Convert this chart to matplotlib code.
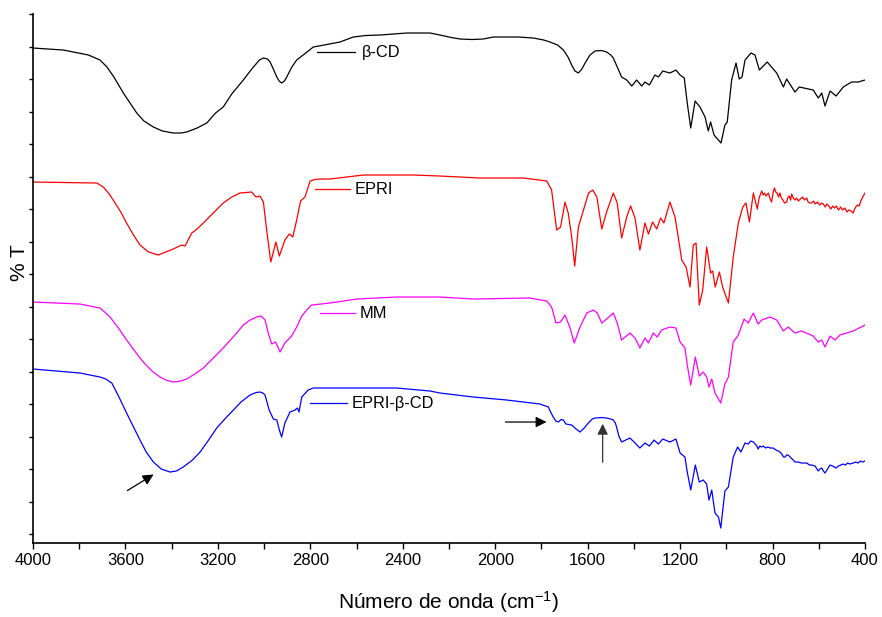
import matplotlib
matplotlib.use("Agg")
import matplotlib.pyplot as plt
import numpy as np

plt.rcParams['font.family'] = ['Liberation Sans', 'DejaVu Sans']
plt.rcParams['mathtext.fontset'] = 'custom'
plt.rcParams['mathtext.rm'] = 'Liberation Sans'
plt.rcParams['mathtext.it'] = 'Liberation Sans:italic'

# ---- data (wavenumber cm-1, offset transmittance in arbitrary units) ----
bcd_w = [4000, 3869, 3760, 3710, 3680, 3650, 3609, 3580, 3551, 3520, 3479, 3440, 3393, 3360,
         3335, 3290, 3248, 3210, 3177, 3140, 3090, 3050, 3020, 3003, 2985, 2974, 2960, 2945,
         2935, 2924, 2912, 2902, 2880, 2859, 2820, 2787, 2740, 2672, 2614, 2560, 2499, 2440,
         2383, 2282, 2239, 2190, 2152, 2100, 2052, 2008, 1900, 1835, 1790, 1763, 1730, 1705,
         1685, 1669, 1655, 1640, 1625, 1611, 1590, 1568, 1540, 1518, 1500, 1489, 1470, 1453,
         1431, 1409, 1388, 1366, 1352, 1333, 1309, 1294, 1275, 1244, 1218, 1200, 1182, 1169,
         1154, 1135, 1114, 1092, 1078, 1068, 1053, 1023, 1006, 996, 977, 958, 944, 932, 919,
         893, 876, 857, 823, 782, 753, 739, 703, 684, 624, 602, 587, 573, 551, 525, 494, 458,
         429, 400]
bcd_t = [495, 493, 488, 483, 476, 466, 450, 440, 430, 422, 416, 412, 410, 410,
         411, 415, 420, 430, 436, 449, 463, 475, 483, 485, 484, 481, 474, 466,
         462, 460, 462, 466, 476, 483, 490, 496, 498, 501, 506, 507.5, 508, 509,
         510, 510, 508, 505.5, 504, 503.5, 504, 506, 506, 505, 503, 501, 498, 493,
         486, 478, 472, 470, 474, 480, 488, 492, 492.5, 491, 488, 485, 475, 466,
         463, 457, 463, 457, 461, 458, 468, 466, 472, 470, 473, 468, 465, 440,
         415, 442, 436, 426, 412, 421, 408, 400, 418, 421, 463, 480, 464, 466, 483,
         490, 488, 473, 481, 470, 456, 464, 451, 456, 453, 445, 450, 437, 452, 447, 456, 461,
         461, 463]

epri_w = [4000, 3724, 3696, 3670, 3653, 3620, 3595, 3565, 3537, 3500, 3458, 3425, 3393, 3357,
          3342, 3313, 3290, 3263, 3220, 3177, 3140, 3104, 3054, 3035, 3018, 3003, 2989, 2971,
          2949, 2934, 2910, 2891, 2876, 2859, 2842, 2823, 2801, 2780, 2758, 2715, 2571, 2354,
          2239, 2066, 1878, 1777, 1756, 1734, 1717, 1698, 1684, 1669, 1656, 1640, 1618, 1596,
          1578, 1560, 1539, 1518, 1489, 1472, 1453, 1431, 1414, 1395, 1374, 1352, 1337, 1319,
          1301, 1284, 1270, 1244, 1222, 1208, 1193, 1174, 1157, 1143, 1131, 1117, 1102, 1085,
          1068, 1059, 1048, 1030, 1016, 991, 970, 948, 929, 915, 900, 883, 866, 858, 847, 840,
          835, 828, 818, 810, 804, 798, 792, 786, 780, 774, 768, 762, 755, 748, 739, 733, 728,
          722, 717, 710, 703, 696, 688, 680, 670, 662, 652, 646, 640, 631, 622, 615, 605, 596,
          588, 580, 572, 565, 556, 548, 540, 532, 524, 515, 505, 497, 487, 478, 470, 460, 451,
          445, 440, 432, 425, 418, 410, 400]
epri_t = [361, 360, 356, 349, 343, 331, 320, 308, 298, 291, 288, 291, 294, 298,
          297, 310, 314, 320, 330, 340, 346, 350, 351, 346, 347, 341, 313, 281,
          301, 287, 303, 309, 306, 323, 342, 346, 362, 363.5, 364, 364, 368, 368,
          367, 365, 365, 362, 353, 313, 316, 341, 330, 306, 277, 316, 333, 350,
          353, 346, 314, 331, 350, 340, 305, 326, 337, 325, 293, 320, 309, 321,
          314, 325, 320, 341, 326, 306, 283, 276, 256, 298, 300, 238, 253, 296,
          270, 272, 256, 271, 256, 240, 286, 320, 336, 340, 321, 350, 334, 345, 352, 348,
          350, 347, 350, 344, 341, 350, 355, 351, 350, 346, 350, 345, 343, 340, 341, 346, 347,
          343, 349, 345, 343, 345, 342, 344, 346, 343, 345, 341, 340, 340, 342, 339, 341, 338,
          340, 339, 336, 339, 337, 334, 337, 335, 337, 333, 336, 333, 335, 331, 333, 332, 330,
          334, 336, 338, 337, 342, 346, 350]

mm_w = [4000, 3797, 3710, 3690, 3667, 3630, 3595, 3560, 3523, 3485, 3450, 3420, 3393, 3360,
        3335, 3300, 3263, 3220, 3177, 3130, 3090, 3060, 3032, 3013, 2996, 2982, 2967, 2950,
        2931, 2910, 2881, 2859, 2837, 2816, 2794, 2715, 2599, 2426, 2282, 2239, 2095, 1850,
        1777, 1756, 1737, 1717, 1698, 1676, 1658, 1633, 1604, 1575, 1558, 1539, 1518, 1489,
        1472, 1453, 1417, 1395, 1374, 1352, 1337, 1316, 1299, 1280, 1244, 1218, 1200, 1179,
        1169, 1154, 1134, 1117, 1100, 1085, 1075, 1063, 1049, 1024, 1006, 991, 970, 948, 923,
        905, 883, 862, 847, 811, 782, 753, 732, 703, 674, 624, 602, 587, 573, 551, 530, 508,
        451, 400]
mm_t = [241, 239, 235, 231, 226, 215, 203, 192, 181, 172, 166, 162.5, 161, 162,
        164, 169, 175, 185, 195, 207, 218, 223, 226, 227, 223, 210, 199, 201,
        191, 200, 207, 216, 227, 233, 238, 240, 244, 246, 246, 246, 244, 245,
        242, 236, 220, 221, 228, 215, 200, 216, 230, 233, 230, 220, 224, 230,
        220, 203, 210, 205, 195, 205, 200, 210, 206, 213, 216, 215, 201, 195,
        178, 158, 186, 167, 171, 166, 156, 164, 150, 140, 159, 166, 201, 208, 224,
        220, 230, 219, 223, 226, 223, 212, 216, 210, 212, 207, 201, 203, 196, 207, 203, 208,
        212, 218]

cplx_w = [4000, 3797, 3710, 3685, 3659, 3630, 3595, 3565, 3537, 3510, 3479, 3445, 3407, 3380,
          3350, 3310, 3277, 3240, 3205, 3170, 3133, 3100, 3061, 3035, 3018, 3005, 2996, 2978,
          2960, 2945, 2934, 2924, 2910, 2888, 2866, 2856, 2849, 2837, 2809, 2787, 2571, 2426,
          2282, 2239, 2095, 1950, 1806, 1770, 1760, 1749, 1738, 1727, 1715, 1705, 1694, 1680,
          1669, 1650, 1633, 1615, 1597, 1580, 1568, 1540, 1518, 1500, 1489, 1480, 1475, 1465,
          1453, 1417, 1395, 1374, 1352, 1333, 1313, 1294, 1275, 1244, 1218, 1200, 1179, 1169,
          1154, 1134, 1117, 1100, 1085, 1075, 1063, 1049, 1034, 1024, 1006, 991, 970, 951, 937,
          919, 905, 895, 883, 875, 868, 862, 855, 848, 840, 830, 820, 810, 797, 785, 775, 768,
          760, 752, 746, 739, 732, 720, 710, 703, 690, 675, 660, 652, 640, 630, 616, 602, 595,
          587, 580, 573, 562, 551, 540, 525, 515, 505, 494, 485, 475, 465, 451, 440, 430, 420,
          410, 400]
cplx_t = [174, 170, 166, 164, 160, 147, 130, 116, 103, 91, 81, 74, 71, 72,
          76, 83, 91, 103, 115, 124, 133, 141, 148, 150.5, 151, 150, 148, 133,
          124, 123, 113, 106, 120, 131, 133, 135, 131, 146, 153, 155, 155, 155,
          152, 150, 146, 143, 139, 136, 131, 126, 122, 121, 123.5, 123, 119, 118.5,
          118, 114, 111, 115, 120, 124, 125, 125.5, 125, 124, 123, 120, 116, 107,
          101, 105, 100, 95, 100, 97, 103, 99, 104, 101, 104, 90, 86, 71,
          53, 78, 61, 63, 59, 43, 53, 30, 26, 15, 52, 56, 86, 96, 91,
          100, 99, 102, 101, 99, 97, 94, 97, 96, 97, 95, 96, 95, 95, 93, 92, 91,
          89, 86, 86, 88, 88, 85, 83, 81, 81, 80, 80, 80, 78, 78, 77, 72, 74,
          75, 72, 70, 74, 78, 77, 75, 77, 78, 79, 78, 80, 79, 80, 81, 80, 82,
          81, 82]

labels = ['β-CD', 'EPRI', 'MM', 'EPRI-β-CD']
colors = ['black', '#ff0000', '#ff00ff', '#0000ff']

# legend-sample positions (wavenumber start/end, level)
leg_w0 = [2772, 2780, 2758, 2801]
leg_w1 = [2607, 2628, 2607, 2643]
leg_t = [491, 354, 230, 140]
leg_tx = [2578, 2607, 2585, 2621]

fig = plt.figure(figsize=(8.82, 6.17), dpi=100)
ax = fig.add_axes([0.0374, 0.1199, 0.9433, 0.8582])

series = [(bcd_w, bcd_t), (epri_w, epri_t), (mm_w, mm_t), (cplx_w, cplx_t)]
for (w, t), c in zip(series, colors):
    ax.plot(w, t, color=c, lw=0.9, solid_joinstyle='round')

for i in range(4):
    ax.plot([leg_w0[i], leg_w1[i]], [leg_t[i], leg_t[i]], color=colors[i], lw=0.9)
    ax.text(leg_tx[i], leg_t[i], labels[i], fontsize=11.8, va='center', ha='left')

# arrows
ax.annotate('', xy=(3468, 70), xytext=(3602, 51),
            arrowprops=dict(arrowstyle='-|>', color='black', lw=0.9, mutation_scale=16))
ax.annotate('', xy=(1766, 121), xytext=(1968, 121),
            arrowprops=dict(arrowstyle='-|>', color='black', lw=0.9, mutation_scale=16))
ax.annotate('', xy=(1535, 122), xytext=(1535, 78),
            arrowprops=dict(arrowstyle='-|>', color='#333333', lw=0.9, mutation_scale=16))

ax.set_xlim(4000, 400)
ax.set_ylim(0, 529.5)
ax.set_xticks(np.arange(4000, 399, -400))
ax.set_xticks(np.arange(3800, 399, -400), minor=True)
ax.set_yticks(np.arange(9, 530, 32.5))
ax.set_yticklabels([])
ax.tick_params(axis='x', which='both', direction='out', length=4, width=1, labelsize=12)
ax.tick_params(axis='y', direction='out', length=3, width=1)
for s in ['top', 'right']:
    ax.spines[s].set_visible(False)
for s in ['left', 'bottom']:
    ax.spines[s].set_linewidth(1.2)

ax.set_xlabel('Número de onda (cm$^{-1}$)', fontsize=15, labelpad=15)
ax.set_ylabel('% T', fontsize=15)
ax.yaxis.set_label_coords(-0.005, 0.53)

fig.savefig('out.png', dpi=100)
